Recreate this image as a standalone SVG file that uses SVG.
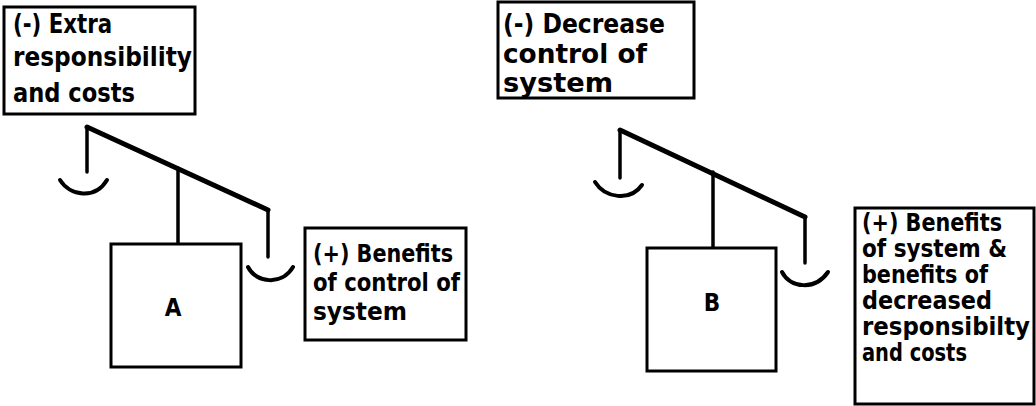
<svg xmlns="http://www.w3.org/2000/svg" width="1036" height="406" viewBox="0 0 1036 406">
<style>
.box{fill:#fff;stroke:#000;stroke-width:3}
.t{font-family:"Liberation Sans Narrow","DejaVu Sans Condensed","Liberation Sans",sans-serif;font-weight:bold;fill:#000}
.big{font-size:26px}
.mid{font-size:24px}
.beam{stroke:#000;stroke-width:5;fill:none;stroke-linecap:round;stroke-linejoin:round}
.line{stroke:#000;stroke-width:3.5;fill:none;stroke-linecap:round}
.pan{stroke:#000;stroke-width:4;fill:none;stroke-linecap:round}
</style>
<rect width="1036" height="406" fill="#fff"/>
<g id="note-extra">
<rect class="box" x="4" y="7" width="191" height="107"/>
<text class="t big" x="13" y="33" textLength="99" lengthAdjust="spacingAndGlyphs">(-) Extra</text>
<text class="t big" x="13" y="66" textLength="179" lengthAdjust="spacingAndGlyphs">responsibility</text>
<text class="t big" x="13" y="102" textLength="122" lengthAdjust="spacingAndGlyphs">and costs</text>
</g>
<g id="note-decrease">
<rect class="box" x="498" y="2" width="196" height="96"/>
<text class="t big" x="503" y="33" textLength="162" lengthAdjust="spacingAndGlyphs">(-) Decrease</text>
<text class="t big" x="503" y="63" textLength="144" lengthAdjust="spacingAndGlyphs">control of</text>
<text class="t big" x="503" y="92" textLength="110" lengthAdjust="spacingAndGlyphs">system</text>
</g>
<g id="connectors">
<path class="beam" d="M87,127 L268,210"/>
<path class="line" d="M87,127 L87,172"/>
<path class="line" d="M268,210 L268,257"/>
<path class="line" d="M178,168 L178,243"/>
<path class="pan" d="M60,180 C70,196 95,200 107,180"/>
<path class="pan" d="M248,267 C256,283 282,286 293,267"/>
<path class="beam" d="M620,130 L805,217"/>
<path class="line" d="M620,130 L620,178"/>
<path class="line" d="M805,217 L805,263"/>
<path class="line" d="M713,172 L713,247"/>
<path class="pan" d="M595,182 C605,198 630,202 642,185"/>
<path class="pan" d="M782,272 C790,288 815,291 828,272"/>
</g>
<g id="box-a">
<rect class="box" x="111" y="244" width="130" height="123" stroke-width="4"/>
<text class="t mid" x="173" y="316" text-anchor="middle">A</text>
</g>
<g id="box-b">
<rect class="box" x="647" y="248" width="129" height="123" stroke-width="4"/>
<text class="t mid" x="712" y="311" text-anchor="middle">B</text>
</g>
<g id="note-benefits-a">
<rect class="box" x="305" y="228" width="161" height="112"/>
<text class="t mid" x="313" y="262" textLength="140" lengthAdjust="spacingAndGlyphs">(+) Benefits</text>
<text class="t mid" x="313" y="291" textLength="147" lengthAdjust="spacingAndGlyphs">of control of</text>
<text class="t mid" x="313" y="320" textLength="94" lengthAdjust="spacingAndGlyphs">system</text>
</g>
<g id="note-benefits-b">
<rect class="box" x="855" y="208" width="179" height="196"/>
<text class="t mid" x="862" y="231" textLength="140" lengthAdjust="spacingAndGlyphs">(+) Benefits</text>
<text class="t mid" x="862" y="257" textLength="145" lengthAdjust="spacingAndGlyphs">of system &amp;</text>
<text class="t mid" x="862" y="283" textLength="126" lengthAdjust="spacingAndGlyphs">benefits of</text>
<text class="t mid" x="862" y="309" textLength="130" lengthAdjust="spacingAndGlyphs">decreased</text>
<text class="t mid" x="862" y="335" textLength="168" lengthAdjust="spacingAndGlyphs">responsibilty</text>
<text class="t mid" x="862" y="361" textLength="105" lengthAdjust="spacingAndGlyphs">and costs</text>
</g>
</svg>
